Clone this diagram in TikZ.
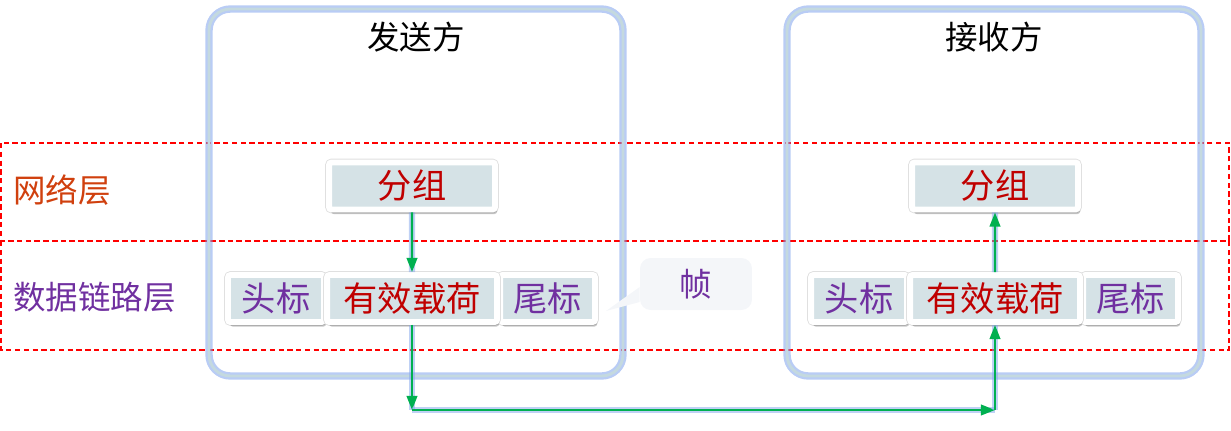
\documentclass[tikz,border=0pt]{standalone}
\usepackage{fontspec}
\setmainfont{Noto Sans CJK SC}
\usepackage{xcolor}
\usepackage{tikz}
\usetikzlibrary{arrows.meta,positioning,calc,shadows}
\definecolor{netred}{HTML}{D0400E}
\definecolor{linkpurple}{HTML}{7030A0}
\definecolor{dred}{HTML}{C00000}
\definecolor{cellfill}{HTML}{D5E2E6}
\definecolor{flowgreen}{HTML}{00B050}
\definecolor{glowblue}{HTML}{7FA3EC}
\definecolor{rimgray}{HTML}{C4D9DF}
\definecolor{tagfill}{HTML}{F4F6F9}

\begin{document}
\begin{tikzpicture}[
    x=0.02cm, y=-0.02cm,
    >={Triangle[length=8pt,width=6pt]},
    big/.style={font=\fontsize{18.5}{20}\selectfont},
    party/.style={rounded corners=12pt, minimum width=8.28cm, minimum height=7.34cm, draw=rimgray, line width=1.6pt, preaction={draw=glowblue, line width=4.2pt, opacity=0.55}},
    cell/.style={font=\fontsize{19.5}{21}\selectfont, fill=cellfill, draw=white, line width=3.4pt, rounded corners=1.5pt, minimum height=0.94cm, inner sep=0pt, preaction={draw=black!12, line width=4.4pt}, drop shadow={shadow xshift=1.2pt, shadow yshift=-2.6pt, fill=black, opacity=0.22}},
    layer/.style={draw=red, dash pattern=on 3pt off 2pt, line width=0.6pt},
    flow/.style={->, draw=flowgreen, fill=flowgreen, line width=1.3pt, preaction={-, draw=glowblue, line width=3.6pt, opacity=0.5}},
    tag/.style={big, fill=tagfill, rounded corners=6pt, minimum width=2.24cm, minimum height=1.04cm, text=linkpurple}
]
\useasboundingbox (0,0) rectangle (1231,430);
% the two layers
\draw[layer] (1,143) rectangle (1229,241);
\draw[layer] (1,241) rectangle (1229,350);
\node[big, anchor=west, inner sep=0pt, text=netred] (netlbl) at (13,190) {网络层};
\node[big, anchor=west, inner sep=0pt, text=linkpurple] (linklbl) at (13,297) {数据链路层};
% the two parties
\node[party] (sender) at (416,192.5) {};
\node[party] (receiver) at (994,192.5) {};
\node[big] (sendtitle) at ($(sender.north)+(0,29)$) {发送方};
\node[big] (recvtitle) at ($(receiver.north)+(0,29)$) {接收方};
% frame tag
\node[tag] (frame) at (696,284) {帧};
\coordinate (tagtip) at (606,311);
\fill[tagfill] ($(frame.west)+(0,3)$) -- (tagtip) -- ($(frame.west)+(0,18)$) -- cycle;
% sender cells
\node[cell, minimum width=3.32cm, text=dred] (spkt) at (412,186) {分组};
\node[cell, minimum width=1.92cm, text=linkpurple] (shead) at (276,298.5) {头标};
\node[cell, minimum width=1.9cm, text=linkpurple] (stail) at (547.5,298.5) {尾标};
\node[cell, minimum width=3.4cm, text=dred] (spay) at ($(shead.east)!0.5!(stail.west)$) {有效载荷};
% receiver cells
\node[cell, minimum width=3.32cm, text=dred] (rpkt) at (995,186) {分组};
\node[cell, minimum width=1.92cm, text=linkpurple] (rhead) at (859,298.5) {头标};
\node[cell, minimum width=1.9cm, text=linkpurple] (rtail) at (1130.5,298.5) {尾标};
\node[cell, minimum width=3.4cm, text=dred] (rpay) at ($(rhead.east)!0.5!(rtail.west)$) {有效载荷};
% data path
\coordinate (bendL) at (spay.south |- 0,410);
\coordinate (bendR) at (rpay.south |- 0,410);
\draw[flow] (spkt.south) -- (spay.north);
\draw[flow] (spay.south) -- (bendL);
\draw[flow] (bendL) -- (bendR);
\draw[flow] (bendR) -- (rpay.south);
\draw[flow] (rpay.north) -- (rpkt.south);
\end{tikzpicture}
\end{document}
